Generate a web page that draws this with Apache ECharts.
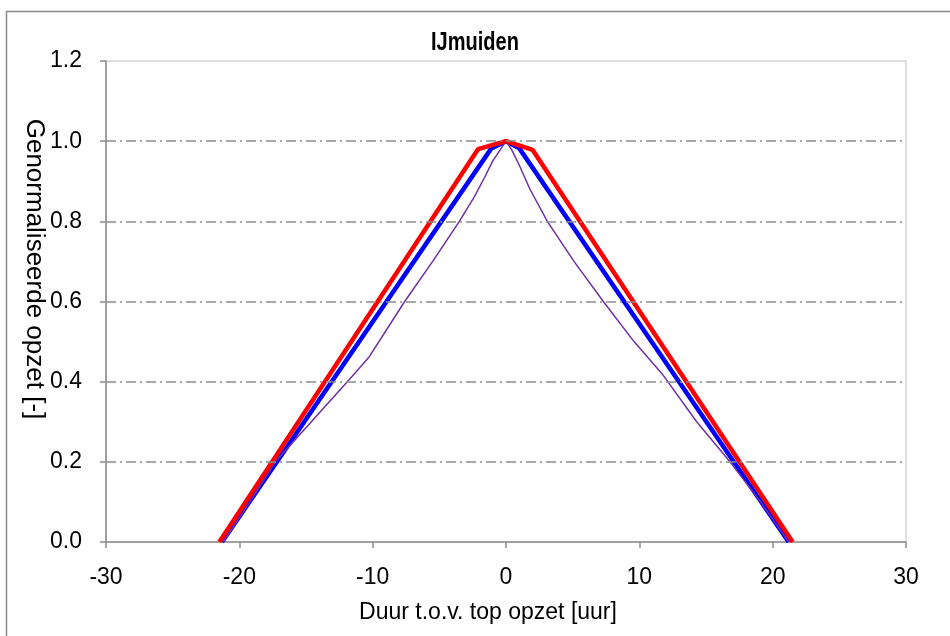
<!DOCTYPE html>
<html>
<head>
<meta charset="utf-8">
<script src="https://cdn.jsdelivr.net/npm/echarts@6/dist/echarts.min.js"></script>
<style>
html,body{margin:0;padding:0;background:#fff;}
#chart{width:950px;height:636px;}
</style>
</head>
<body>
<div id="chart"></div>
<script>
// ---- data ----
const chartTitle = 'IJmuiden';
const xTitle = 'Duur t.o.v. top opzet [uur]';
const yTitle = 'Genormaliseerde opzet [-]';

const xMin = -30, xMax = 30, xStep = 10;
const yMin = 0, yMax = 1.2, yStep = 0.2;
const gridValues = [0.2, 0.4, 0.6, 0.8, 1.0];

const redX = [-21.5, -2.1, 0, 2.0, 21.5];
const redY = [0, 0.98, 1.0, 0.978, 0];

const blueX = [-21.3, -1.1, 0, 1.0, 21.2];
const blueY = [0, 0.982, 1.0, 0.982, 0];

const purpleX = [-21.2, -19.2, -17.3, -14.6, -11.9, -10.3, -7.6, -5.5, -3.5, -2.4, -1.6, -1.0, -0.4, 0,
                 0.4, 1.0, 1.8, 3.1, 5.1, 7.3, 9.6, 11.7, 14.3, 16.8, 19.1, 21.2];
const purpleY = [0, 0.1, 0.2, 0.3, 0.4, 0.46, 0.6, 0.7, 0.8, 0.86, 0.91, 0.95, 0.98, 1.0,
                 0.98, 0.94, 0.88, 0.8, 0.7, 0.6, 0.5, 0.42, 0.3, 0.2, 0.1, 0];

function pairs(xs, ys){ return xs.map((x,i)=>[x, ys[i]]); }

const chart = echarts.init(document.getElementById('chart'), null, {renderer:'canvas'});
const fontH = "'Liberation Sans', Arial, sans-serif";

chart.setOption({
  animation: false,
  backgroundColor: '#ffffff',
  grid: {left: 106, right: 44, top: 61, bottom: 94, show: true, borderColor: '#c0c0c0', borderWidth: 1, backgroundColor: 'transparent'},
  xAxis: {
    type: 'value', min: xMin, max: xMax, interval: xStep,
    axisLine: {show: true, onZero: false, lineStyle: {color: '#8c8c8c', width: 1.5}},
    axisTick: {show: true, inside: false, length: 6, lineStyle: {color: '#8c8c8c', width: 1.5}},
    axisLabel: {margin: 24, fontFamily: fontH, fontSize: 23, color: '#000'},
    splitLine: {show: false}
  },
  yAxis: {
    type: 'value', min: yMin, max: yMax, interval: yStep,
    axisLine: {show: true, onZero: false, lineStyle: {color: '#8c8c8c', width: 1.5}},
    axisTick: {show: true, inside: false, length: 6, lineStyle: {color: '#8c8c8c', width: 1.5}},
    axisLabel: {margin: 24, fontFamily: fontH, fontSize: 23, color: '#000', formatter: v => v.toFixed(1)},
    splitLine: {show: false}
  },
  graphic: [
    {type: 'rect', left: 4, top: 9, shape: {width: 1000, height: 700}, style: {fill: 'none', stroke: '#8a8a8a', lineWidth: 1.5}, silent: true, z: -10},
    {type: 'text', x: 475, y: 43, scaleX: 0.77,
     style: {text: chartTitle, fontFamily: fontH, fontWeight: 'bold', fontSize: 26, fill: '#000', textAlign: 'center', textVerticalAlign: 'middle'}},
    {type: 'text', x: 34, y: 269, rotation: -Math.PI/2,
     style: {text: yTitle, fontFamily: fontH, fontSize: 26, fill: '#000', textAlign: 'center', textVerticalAlign: 'middle'}},
    {type: 'text', x: 488, y: 613,
     style: {text: xTitle, fontFamily: fontH, fontSize: 23, fill: '#000', textAlign: 'center', textVerticalAlign: 'middle'}}
  ],
  series: [
    {
      type: 'line', data: [], z: 1, silent: true,
      markLine: {
        silent: true, symbol: 'none', label: {show: false}, animation: false,
        lineStyle: {color: '#8c8c8c', width: 1.5, type: [10, 4, 2, 4]},
        data: gridValues.map(v => ({yAxis: v}))
      }
    },
    {type: 'line', name: 'blue', data: pairs(blueX, blueY), showSymbol: false, z: 2,
     lineStyle: {color: '#0000ff', width: 4.5}},
    {type: 'line', name: 'purple', data: pairs(purpleX, purpleY), showSymbol: false, z: 3,
     lineStyle: {color: '#7030a0', width: 1.5}},
    {type: 'line', name: 'red', data: pairs(redX, redY), showSymbol: false, z: 4,
     lineStyle: {color: '#ff0000', width: 4.5}}
  ]
});
</script>
</body>
</html>
